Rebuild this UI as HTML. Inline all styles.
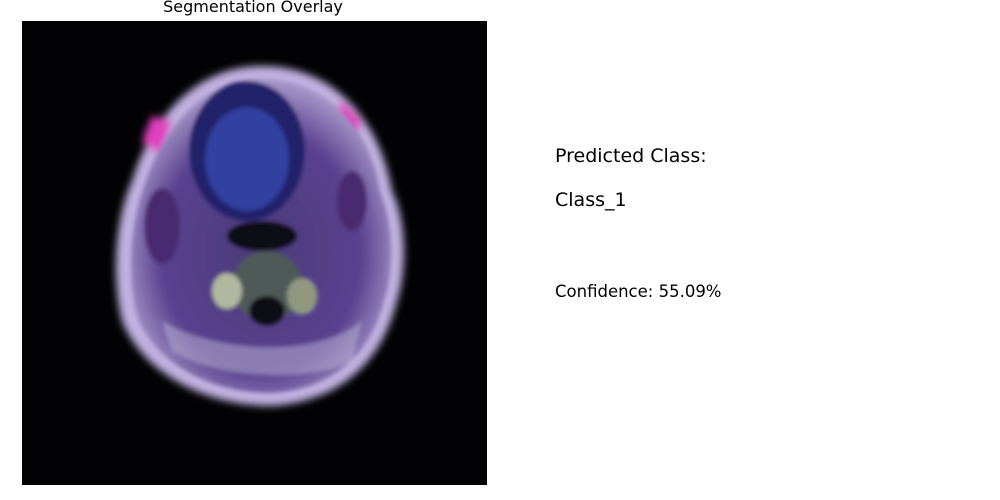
<!DOCTYPE html>
<html><head><meta charset="utf-8"><style>
html,body{margin:0;padding:0;background:#fff;width:1000px;height:500px;overflow:hidden;font-family:"DejaVu Sans","Liberation Sans",sans-serif;}
.t{position:absolute;color:#000;white-space:nowrap}
</style></head><body>
<div class="t" style="left:0;width:506px;text-align:center;top:-3px;font-size:16px;">Segmentation Overlay</div>
<svg style="position:absolute;left:22px;top:21px" width="465" height="464" viewBox="0 0 465 464">
<defs>
<filter id="b" x="-20%" y="-20%" width="140%" height="140%"><feGaussianBlur stdDeviation="4"/></filter>
<filter id="b2"><feGaussianBlur stdDeviation="2"/></filter>
<radialGradient id="g" cx="50%" cy="55%" r="55%"><stop offset="0" stop-color="#4a3a78"/><stop offset="0.7" stop-color="#5a4290"/><stop offset="1" stop-color="#a898c8"/></radialGradient>
</defs>
<rect width="465" height="464" fill="#020204"/>
<g filter="url(#b)">
<path d="M240 45 C320 45 360 110 370 170 C385 200 385 250 375 280 C360 340 320 380 250 385 C180 385 120 350 100 300 C90 260 92 200 110 160 C125 110 165 45 240 45Z" fill="#c0b0e0"/>
<path d="M130 95 L150 100 L140 135 L120 120Z" fill="#e040c0"/>
<path d="M320 80 L340 100 L330 120 L310 100Z" fill="#e040c0"/>
</g>
<g filter="url(#b2)">
<path d="M240 58 C310 58 350 115 358 170 C372 205 372 250 362 280 C348 335 310 368 250 372 C185 372 132 340 115 295 C105 255 108 205 122 165 C137 118 175 58 240 58Z" fill="url(#g)"/>
<ellipse cx="225" cy="130" rx="58" ry="70" fill="#22226a"/>
<ellipse cx="225" cy="138" rx="42" ry="52" fill="#3040a0"/>
<ellipse cx="240" cy="215" rx="35" ry="15" fill="#0a0a14"/>
<ellipse cx="140" cy="205" rx="18" ry="38" fill="#4a2a70"/>
<ellipse cx="330" cy="180" rx="15" ry="30" fill="#4a2a70"/>
<ellipse cx="245" cy="265" rx="35" ry="35" fill="#505a58"/>
<ellipse cx="245" cy="290" rx="18" ry="15" fill="#101018"/>
<ellipse cx="205" cy="270" rx="15" ry="18" fill="#b0b8a0"/>
<ellipse cx="280" cy="275" rx="15" ry="18" fill="#909880"/>
<path d="M140 300 C190 330 290 340 340 300 L330 340 C290 360 200 360 150 330Z" fill="#c0b8d8" opacity="0.5"/>
</g>
</svg>
<div class="t" style="left:555px;top:145px;font-size:19px;">Predicted Class:</div>
<div class="t" style="left:555px;top:189px;font-size:19px;">Class_1</div>
<div class="t" style="left:555px;top:282px;font-size:16.5px;">Confidence: 55.09%</div>
</body></html>
